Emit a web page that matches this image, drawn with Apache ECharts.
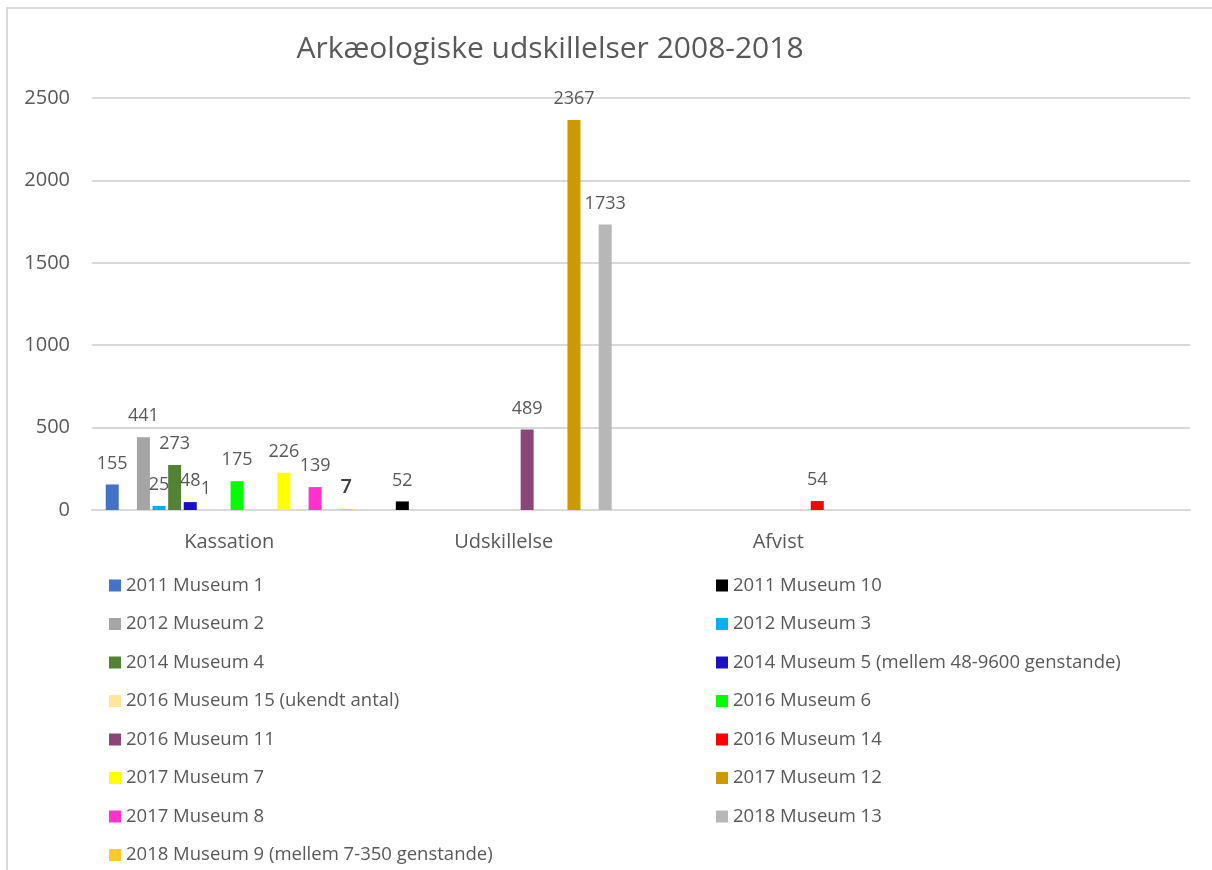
<!DOCTYPE html>
<html>
<head>
<meta charset="utf-8">
<script src="https://cdn.jsdelivr.net/npm/echarts@6/dist/echarts.min.js"></script>
<style>
  html, body { margin: 0; padding: 0; background: #fff; }
  #chart { width: 1212px; height: 870px; }
</style>
</head>
<body>
<div id="chart"></div>
<script>
var categories = ['Kassation', 'Udskillelse', 'Afvist', ''];
var yTicks = [0, 500, 1000, 1500, 2000, 2500];

// series in drawing order; the empty one has no legend entry
var seriesNames = [
  '2011 Museum 1', '2011 Museum 10', '2012 Museum 2', '2012 Museum 3',
  '2014 Museum 4', '2014 Museum 5 (mellem 48-9600 genstande)', '2016 Museum 15 (ukendt antal)',
  '(tom)', '2016 Museum 6', '2016 Museum 11', '2016 Museum 14', '2017 Museum 7',
  '2017 Museum 12', '2017 Museum 8', '2018 Museum 13', '2018 Museum 9 (mellem 7-350 genstande)'
];
var seriesValues = [
  [155, null, null, null],
  [null, 52, null, null],
  [441, null, null, null],
  [25, null, null, null],
  [273, null, null, null],
  [48, null, null, null],
  [1, null, null, null],
  [null, null, null, null],
  [175, null, null, null],
  [null, 489, null, null],
  [null, null, 54, null],
  [226, null, null, null],
  [null, 2367, null, null],
  [139, null, null, null],
  [null, 1733, null, null],
  [7, null, null, null]
];
var seriesColors = [
  '#4472C4', '#000000', '#A5A5A5', '#00B0F0', '#548235', '#1C10C4', '#FFE699',
  '#FFFFFF', '#00FF00', '#8C4579', '#FF0000', '#FFFF00', '#CC9900', '#FF33CC',
  '#B7B7B7', '#FFC731'
];
var legendLeft = [
  '2011 Museum 1', '2012 Museum 2', '2014 Museum 4', '2016 Museum 15 (ukendt antal)',
  '2016 Museum 11', '2017 Museum 7', '2017 Museum 8', '2018 Museum 9 (mellem 7-350 genstande)'
];
var legendRight = [
  '2011 Museum 10', '2012 Museum 3', '2014 Museum 5 (mellem 48-9600 genstande)', '2016 Museum 6',
  '2016 Museum 14', '2017 Museum 12', '2018 Museum 13'
];

var font = '"Open Sans", "Noto Sans", sans-serif';
var grey = '#595959';

var myChart = echarts.init(document.getElementById('chart'));

var series = seriesNames.map(function (name, i) {
  var s = {
    name: name,
    type: 'bar',
    data: seriesValues[i],
    itemStyle: { color: seriesColors[i] },
    barGap: '20%',
    barCategoryGap: '10%',
    label: {
      show: true,
      position: 'top',
      distance: 12,
      fontFamily: font,
      fontSize: 18,
      color: grey
    }
  };
  if (i === 15) {
    s.label.color = '#404040';
    s.label.fontSize = 20;
    s.label.fontWeight = 600;
  }
  return s;
});

var legendCommon = {
  orient: 'vertical',
  top: 571,
  height: 320,
  itemWidth: 12,
  itemHeight: 12,
  itemGap: 19.5,
  icon: 'rect',
  textStyle: { fontFamily: font, fontSize: 18.5, color: grey, lineHeight: 18 }
};

option = {
  animation: false,
  backgroundColor: '#fff',
  graphic: [{
    type: 'rect',
    shape: { x: 7, y: 8, width: 1300, height: 1000 },
    style: { fill: 'none', stroke: '#D9D9D9', lineWidth: 2 },
    silent: true
  }],
  title: {
    text: 'Arkæologiske udskillelser 2008-2018',
    left: 545,
    textAlign: 'center',
    top: 29,
    textStyle: { fontFamily: font, fontSize: 30, fontWeight: 'normal', color: grey }
  },
  legend: [
    Object.assign({}, legendCommon, { left: 104, data: legendLeft }),
    Object.assign({}, legendCommon, { left: 711, data: legendRight })
  ],
  grid: { left: 92, right: 22, top: 98, bottom: 360, containLabel: false },
  xAxis: {
    type: 'category',
    data: categories,
    axisLine: { lineStyle: { color: '#D9D9D9', width: 2 } },
    axisTick: { show: false },
    axisLabel: { fontFamily: font, fontSize: 20, color: grey, margin: 22 }
  },
  yAxis: {
    type: 'value',
    min: yTicks[0],
    max: yTicks[yTicks.length - 1],
    interval: 500,
    axisLine: { show: false },
    axisTick: { show: false },
    splitLine: { lineStyle: { color: '#D9D9D9', width: 2 } },
    axisLabel: {
      fontFamily: font, fontSize: 20, color: grey, margin: 22,
      formatter: function (v) { return String(v); }
    }
  },
  series: series
};

myChart.setOption(option);
window.onresize = () => myChart.resize();
</script>
</body>
</html>
